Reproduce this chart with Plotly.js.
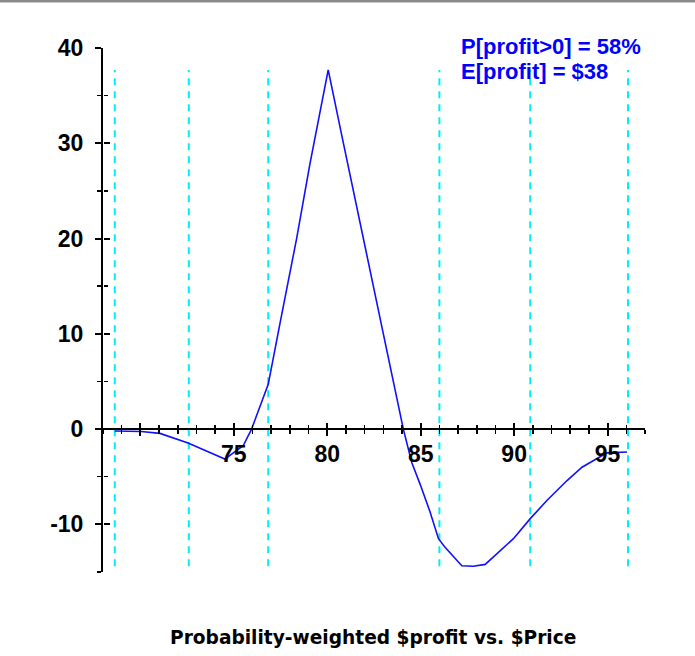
<!DOCTYPE html>
<html>
<head>
<meta charset="utf-8">
<script src="https://cdn.plot.ly/plotly-3.0.1.min.js"></script>
<style>
  html, body { margin: 0; padding: 0; background: #fff; }
  #wrap { position: relative; width: 695px; height: 656px; }
  #topbar { position: absolute; left: 0; top: 0; width: 695px; height: 2px; background: #8a8a8a; z-index: 5; }
  #topbar2 { position: absolute; left: 0; top: 2px; width: 695px; height: 1px; background: #c8c8c8; z-index: 5; }
  #chart { position: absolute; left: 0; top: 0; width: 695px; height: 656px; }
</style>
</head>
<body>
<div id="wrap">
  <div id="chart"></div>
  <div id="topbar"></div>
  <div id="topbar2"></div>
</div>
<script>
// ---- data ----
const price = [68.63, 70.05, 71.05, 72.55, 74.52, 75.5, 75.95, 76.84, 77.47, 78.36, 79.07, 79.61, 80.05,
               80.8, 81.57, 82.29, 83.0, 84.07, 84.52, 84.97, 85.5, 85.95, 86.3, 87.2, 87.82, 88.45,
               89.34, 89.96, 90.86, 91.75, 92.83, 93.63, 94.25, 94.97, 96.04];
const profit = [-0.2, -0.25, -0.45, -1.45, -3.15, -1.75, 0.0, 4.7, 11.1, 20.0, 27.8, 33.3, 37.7,
                30.6, 23.5, 16.9, 10.0, 0.0, -3.5, -5.8, -8.7, -11.5, -12.4, -14.35, -14.4, -14.2,
                -12.6, -11.5, -9.4, -7.5, -5.4, -4.0, -3.3, -2.5, -2.4];
const cutoffPrices = [68.63, 72.59, 76.84, 86.0, 90.86, 96.09];
const xTickVals = [70, 75, 80, 85, 90, 95];
const xTickText = ['', '75', '80', '85', '90', '95'];
const yTickVals = [-10, 0, 10, 20, 30, 40];
const yTickText = ['-10', '0', '10', '20', '30', '40'];
const statLines = ['P[profit>0] = 58%', 'E[profit] = $38'];
const chartTitle = 'Probability-weighted $profit vs. $Price';
const xRange = [68, 97];
const yRange = [-15, 40];

// ---- build traces ----
const yMin = Math.min(...profit), yMax = Math.max(...profit);
const vx = [], vy = [];
cutoffPrices.forEach(p => { vx.push(p, p, null); vy.push(yMin, yMax, null); });

const tickFont = { family: '"Liberation Sans", Arial, sans-serif', size: 23, color: '#000', weight: 'bold' };
const zeroPos = (0 - yRange[0]) / (yRange[1] - yRange[0]);

const traces = [
  { x: vx, y: vy, type: 'scatter', mode: 'lines', hoverinfo: 'skip',
    line: { color: '#00f0f0', width: 2, dash: '7px,6px' } },
  { x: price, y: profit, type: 'scatter', mode: 'lines', hoverinfo: 'skip',
    line: { color: '#1010ff', width: 1.6 } },
  { x: [], y: [], xaxis: 'x2', yaxis: 'y2', type: 'scatter', mode: 'lines', showlegend: false }
];

const common = { showgrid: false, zeroline: false, fixedrange: true };

const layout = {
  width: 695, height: 656,
  margin: { l: 103, r: 50, t: 48, b: 84, pad: 0 },
  paper_bgcolor: '#fff', plot_bgcolor: '#fff',
  showlegend: false,
  xaxis: Object.assign({}, common, {
    range: xRange, anchor: 'free', position: zeroPos,
    showline: true, linecolor: '#000', linewidth: 2,
    ticks: 'outside', ticklen: 6, tickwidth: 2, tickcolor: '#000',
    tickmode: 'array', tickvals: xTickVals, ticktext: xTickText,
    ticklabelstandoff: -2,
    tickfont: tickFont,
    minor: { tickmode: 'linear', tick0: 0, dtick: 1, ticks: 'outside', ticklen: 4, tickwidth: 1.5, tickcolor: '#000' }
  }),
  xaxis2: Object.assign({}, common, {
    range: xRange, overlaying: 'x', anchor: 'free', position: zeroPos,
    showline: false, showticklabels: false,
    ticks: 'inside', ticklen: 6, tickwidth: 2, tickcolor: '#000',
    tickmode: 'array', tickvals: xTickVals,
    minor: { tickmode: 'linear', tick0: 0, dtick: 1, ticks: 'inside', ticklen: 4, tickwidth: 1.5, tickcolor: '#000' }
  }),
  yaxis: Object.assign({}, common, {
    range: yRange,
    showline: true, linecolor: '#000', linewidth: 2,
    ticks: 'outside', ticklen: 6, tickwidth: 2, tickcolor: '#000',
    tickmode: 'array', tickvals: yTickVals, ticktext: yTickText,
    ticklabelstandoff: 7,
    tickfont: tickFont,
    minor: { tickmode: 'linear', tick0: 0, dtick: 5, ticks: 'outside', ticklen: 4, tickwidth: 1.5, tickcolor: '#000' }
  }),
  yaxis2: Object.assign({}, common, {
    range: yRange, overlaying: 'y', anchor: 'free', position: 0, side: 'left',
    showline: false, showticklabels: false,
    ticks: 'inside', ticklen: 6, tickwidth: 2, tickcolor: '#000',
    tickmode: 'array', tickvals: yTickVals,
    minor: { tickmode: 'linear', tick0: 0, dtick: 5, ticks: 'inside', ticklen: 4, tickwidth: 1.5, tickcolor: '#000' }
  }),
  annotations: [
    { xref: 'paper', yref: 'paper', x: 0.657, y: 1.0034, xanchor: 'left', yanchor: 'middle',
      text: statLines[0], showarrow: false,
      font: { family: '"Liberation Sans", Arial, sans-serif', size: 22, color: '#0000ff', weight: 'bold' } },
    { xref: 'paper', yref: 'paper', x: 0.657, y: 0.9558, xanchor: 'left', yanchor: 'middle',
      text: statLines[1], showarrow: false,
      font: { family: '"Liberation Sans", Arial, sans-serif', size: 22, color: '#0000ff', weight: 'bold' } },
    { xref: 'paper', yref: 'paper', x: 0.498, y: -0.1248, xanchor: 'center', yanchor: 'middle',
      text: chartTitle, showarrow: false,
      font: { family: '"DejaVu Sans", sans-serif', size: 18.6, color: '#000', weight: 'bold' } }
  ]
};

Plotly.newPlot('chart', traces, layout, { staticPlot: true, displayModeBar: false });
</script>
</body>
</html>
